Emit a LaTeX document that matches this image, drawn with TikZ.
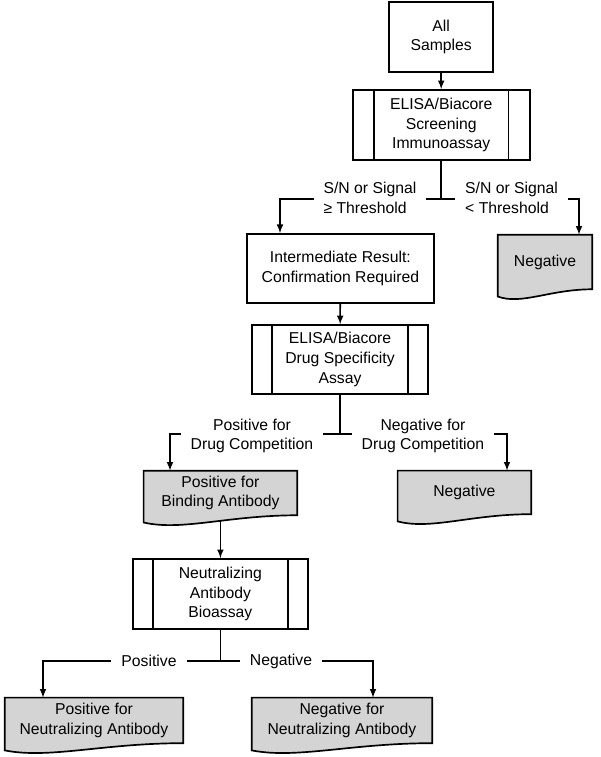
\documentclass[tikz,border=0pt]{standalone}
\usepackage{fontspec}
\setmainfont{Liberation Sans}
\usetikzlibrary{calc,backgrounds}
\definecolor{docgray}{RGB}{212,212,212}

\begin{document}
\begin{tikzpicture}[
font=\fontsize{11.2}{14}\selectfont,
every node/.style={
align=center,
inner sep=0pt
},
box/.style={draw, line width=1.2pt},
proc/.style={draw, line width=1.2pt},
doc/.style={},
lab/.style={fill=white, inner xsep=0.25cm, inner ysep=1pt},
conn/.style={line width=1.1pt}
]

\useasboundingbox (0,0) rectangle (15,-18.925);

\node[box, minimum width=2.6cm, minimum height=1.75cm] (all) at (11.03,-0.925)
{All\\Samples};

\node[proc, minimum width=4.425cm, minimum height=1.75cm] (scr) at (11.03,-3.125)
{ELISA/Biacore\\Screening\\Immunoassay};

\node[box, minimum width=4.675cm, minimum height=1.725cm] (int) at (8.51,-6.71)
{Intermediate Result:\\Confirmation Required};

\node[doc, minimum width=2.35cm, minimum height=1.35cm] (neg1) at (13.625,-6.55)
{Negative};

\node[proc, minimum width=4.4cm, minimum height=1.725cm] (drug) at (8.5,-8.99)
{ELISA/Biacore\\Drug Specificity\\Assay};

\node[doc, minimum width=3.825cm, minimum height=1.1cm] (bind) at (5.51,-12.325)
{Positive for\\Binding Antibody};

\node[doc, minimum width=3.325cm, minimum height=1.075cm] (neg2) at (11.61,-12.31)
{Negative};

\node[proc, minimum width=4.375cm, minimum height=1.75cm] (neu) at (5.51,-14.85)
{Neutralizing\\Antibody\\Bioassay};

\node[doc, minimum width=4.45cm, minimum height=1.125cm] (posN) at (2.35,-18.01)
{Positive for\\Neutralizing Antibody};

\node[doc, minimum width=4.5cm, minimum height=1.125cm] (negN) at (8.55,-18.01)
{Negative for\\Neutralizing Antibody};

% document shapes
\begin{scope}[on background layer]
\foreach \d in {neg1,bind,neg2,posN,negN}
\draw[line width=1.2pt, fill=docgray] (\d.north west) -- (\d.north east) -- (\d.south east)
.. controls ($(\d.south east)!0.45!(\d.south west)$) and ($(\d.south east)!0.75!(\d.south west)+(0,-0.4)$)
.. ($(\d.south west)+(0,-0.18)$) -- cycle;
\end{scope}

% process side bars
\foreach \p/\w in {scr/0.55,drug/0.525,neu/0.525}
\draw[line width=1.2pt] ([xshift=\w cm]\p.north west) -- ([xshift=\w cm]\p.south west)
([xshift=-\w cm]\p.north east) -- ([xshift=-\w cm]\p.south east);

\coordinate (t1) at (11.03,-4.975);
\coordinate (t2) at (8.5,-10.85);
\coordinate (t3) at (5.51,-16.525);

\draw[conn,-latex] (all) -- (scr);
\draw[conn] (scr) -- (t1);
\draw[conn,-latex] (t1) -| ([xshift=-1.51cm]int.north);
\draw[conn,-latex] (t1) -| ([xshift=0.85cm]neg1.north);
\draw[conn,-latex] (int) -- (drug);
\draw[conn] (drug) -- (t2);
\draw[conn,-latex] (t2) -| ([xshift=-1.26cm]bind.north);
\draw[conn,-latex] (t2) -| ([xshift=1.065cm]neg2.north);
\draw[conn,-latex] ([yshift=-0.14cm]bind.south) -- (neu);
\draw[conn] (neu) -- (t3);
\draw[conn,-latex] (t3) -| ([xshift=-1.275cm]posN.north);
\draw[conn,-latex] (t3) -| ([xshift=0.775cm]negN.north);

\node[lab, align=left] (l1) at (9.25,-4.95)
{S/N or Signal\\≥ Threshold};
\node[lab, align=left] (l2) at (12.79,-4.95)
{S/N or Signal\\< Threshold};
\node[lab] (l3) at (6.3,-10.9)
{Positive for\\Drug Competition};
\node[lab] (l4) at (10.575,-10.9)
{Negative for\\Drug Competition};
\node[lab] (l5) at (3.725,-16.525)
{Positive};
\node[lab] (l6) at (7.025,-16.525)
{Negative};

\end{tikzpicture}
\end{document}
